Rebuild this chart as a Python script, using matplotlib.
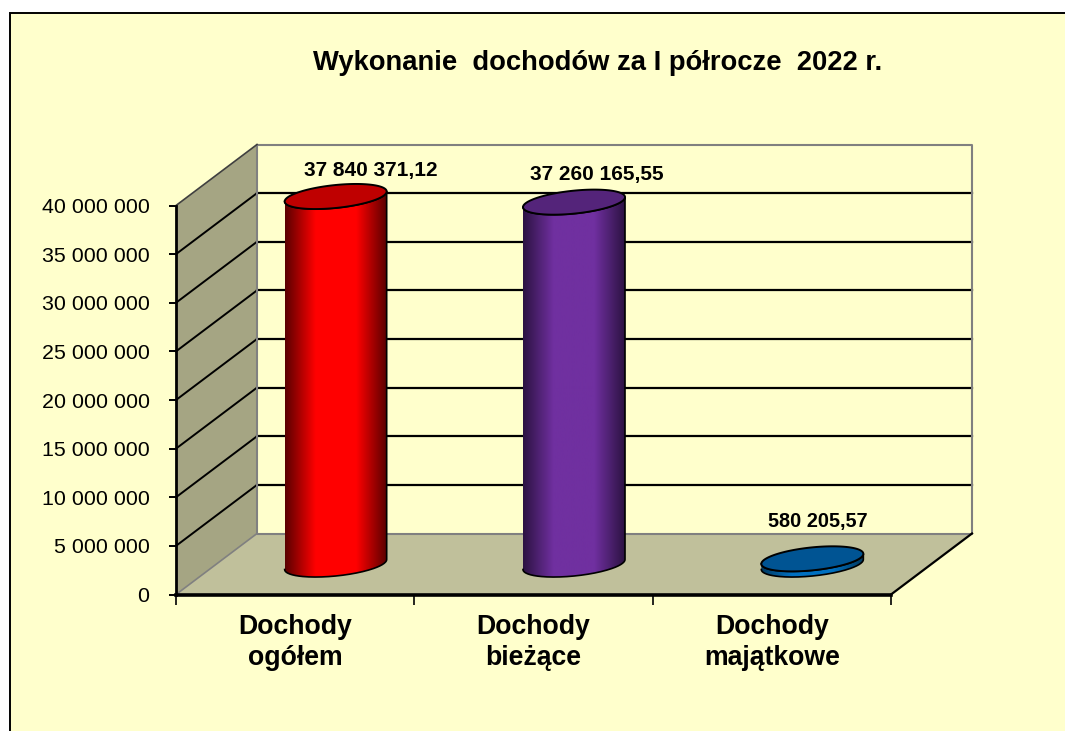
import numpy as np
import matplotlib
matplotlib.use("Agg")
import matplotlib.pyplot as plt
from matplotlib.patches import Polygon, Rectangle
from matplotlib.colors import LinearSegmentedColormap

plt.rcParams['font.family'] = ['Liberation Sans', 'DejaVu Sans']

categories = ["Dochody\nogółem", "Dochody\nbieżące", "Dochody\nmajątkowe"]
values = [37840371.12, 37260165.55, 580205.57]
value_labels = ["37 840 371,12", "37 260 165,55", "580 205,57"]
y_ticks = [0, 5000000, 10000000, 15000000, 20000000, 25000000, 30000000, 35000000, 40000000]
y_tick_labels = ["0", "5 000 000", "10 000 000", "15 000 000", "20 000 000",
                 "25 000 000", "30 000 000", "35 000 000", "40 000 000"]
title = "Wykonanie  dochodów za I półrocze  2022 r."
side_mid = ["#ff0000", "#7030a0", "#0070c0"]
side_edge = ["#5a0000", "#2c1242", "#00395f"]
top_cols = ["#bf0000", "#54247a", "#005493"]
label_dx_px = [35, 23, 5]
label_dy_px = [26, 28, 37]
label_sizes = [15, 15, 14.3]

W, H = 1065, 731
BG = "#ffffcc"
fig = plt.figure(figsize=(W / 100, H / 100), dpi=100, facecolor="white")

# panel background
bg = fig.add_axes([0, 0, 1, 1], zorder=0)
bg.set_xlim(0, W); bg.set_ylim(H, 0); bg.axis("off")
bg.add_patch(Rectangle((9.5, 12.5), W, H, fc=BG, ec="black", lw=1.4))

# plot axes: front plane of the 3D box
L, R, Y0, Y40 = 176, 891, 594.5, 205.5
ax = fig.add_axes([L / W, 1 - Y0 / H, (R - L) / W, (Y0 - Y40) / H], zorder=1)
ax.set_xlim(0, 3); ax.set_ylim(0, 40000000)
ax.patch.set_visible(False)
for s in ax.spines.values():
    s.set_visible(False)

px_x = 3 / (R - L)
px_y = 40000000 / (Y0 - Y40)
DX, DY = 81 * px_x, 61 * px_y   # depth of the box

# walls
ymax = y_ticks[-1]
ax.add_patch(Polygon([(0, 0), (DX, DY), (3 + DX, DY), (3, 0)], fc="#c0c09b", ec="none", zorder=1, clip_on=False))
ax.add_patch(Polygon([(0, 0), (DX, DY), (DX, ymax + DY), (0, ymax)], fc="#a5a583", ec="none", zorder=1, clip_on=False))

# gridlines on back and side wall
for v in y_ticks[1:-1]:
    ax.plot([DX, 3 + DX], [v + DY, v + DY], color="black", lw=1.6, zorder=2, clip_on=False)
    ax.plot([0, DX], [v, v + DY], color="black", lw=1.4, zorder=2, clip_on=False)
GR = "#808080"
ax.plot([DX, 3 + DX, 3 + DX, DX, DX], [ymax + DY, ymax + DY, DY, DY, ymax + DY], color=GR, lw=1.5, zorder=2, clip_on=False)
ax.plot([0, DX], [0, DY], color=GR, lw=1.2, zorder=2, clip_on=False)
ax.plot([0, DX], [ymax, ymax + DY], color="#404040", lw=1.2, zorder=2, clip_on=False)
ax.plot([3, 3 + DX], [0, DY], color="black", lw=1.6, zorder=2, clip_on=False)
ax.plot([0, 3], [0, 0], color="black", lw=2.6, zorder=3, clip_on=False)
ax.plot([0, 0], [0, ymax], color="black", lw=2.0, zorder=3, clip_on=False)

# axes ticks
ax.set_yticks(y_ticks, y_tick_labels, fontsize=15.4, color="black")
ax.set_xticks([0, 1, 2, 3], ["", "", "", ""])
ax.tick_params(axis="y", length=5, width=1.4, pad=14)
ax.tick_params(axis="x", length=7, width=1.2)
for i, c in enumerate(categories):
    ax.text(i + 0.5, -2.0e6, c, ha="center", va="top", fontsize=19.2, fontweight="bold",
            linespacing=1.27, clip_on=False)

# cylinders
A, B, TILT = 51, 11.5, 5
BASE = 30 * px_y
t = np.linspace(0, 2 * np.pi, 181)
for i, val in enumerate(values):
    cx = i + 0.5 + DX / 2
    ex = cx + A * px_x * np.cos(t)
    ey = (B * np.sin(t) + TILT * np.cos(t)) * px_y
    y_top, y_bot = BASE + val, BASE
    tl = np.linspace(np.pi, 2 * np.pi, 91)
    lx = cx + A * px_x * np.cos(tl)
    ly = (B * np.sin(tl) + TILT * np.cos(tl)) * px_y
    sx = np.concatenate([lx, lx[::-1]])
    sy = np.concatenate([ly + y_bot, ly[::-1] + y_top])
    cmap = LinearSegmentedColormap.from_list(
        "c", [(0, side_edge[i]), (0.3, side_mid[i]), (0.7, side_mid[i]), (1, side_edge[i])])
    grad = np.linspace(0, 1, 256).reshape(1, -1)
    lo, hi = float(sy.min()), float(sy.max())
    im = ax.imshow(grad, cmap=cmap, aspect="auto", extent=(cx - A * px_x, cx + A * px_x, lo, hi), zorder=4)
    poly = Polygon(np.c_[sx, sy], transform=ax.transData, fc="none", ec="none")
    ax.add_patch(poly)
    im.set_clip_box(fig.bbox)
    im.set_clip_path(poly)
    ax.plot(sx, sy, color="#000000", lw=1.2, zorder=5, clip_on=False)
    ax.add_patch(Polygon(np.c_[ex, ey + y_top], fc=top_cols[i], ec="black", lw=1.4, zorder=6, clip_on=False))
    ax.text(cx + label_dx_px[i] * px_x, y_top + label_dy_px[i] * px_y, value_labels[i], ha="center", va="center",
            fontsize=label_sizes[i], fontweight="bold", zorder=7, clip_on=False)
ax.set_xlim(0, 3); ax.set_ylim(0, 40000000)

fig.text(597.5 / W, 1 - 63 / H, title, ha="center", va="center", fontsize=19.75, fontweight="bold")
fig.savefig("out.png", dpi=100, facecolor="white")
